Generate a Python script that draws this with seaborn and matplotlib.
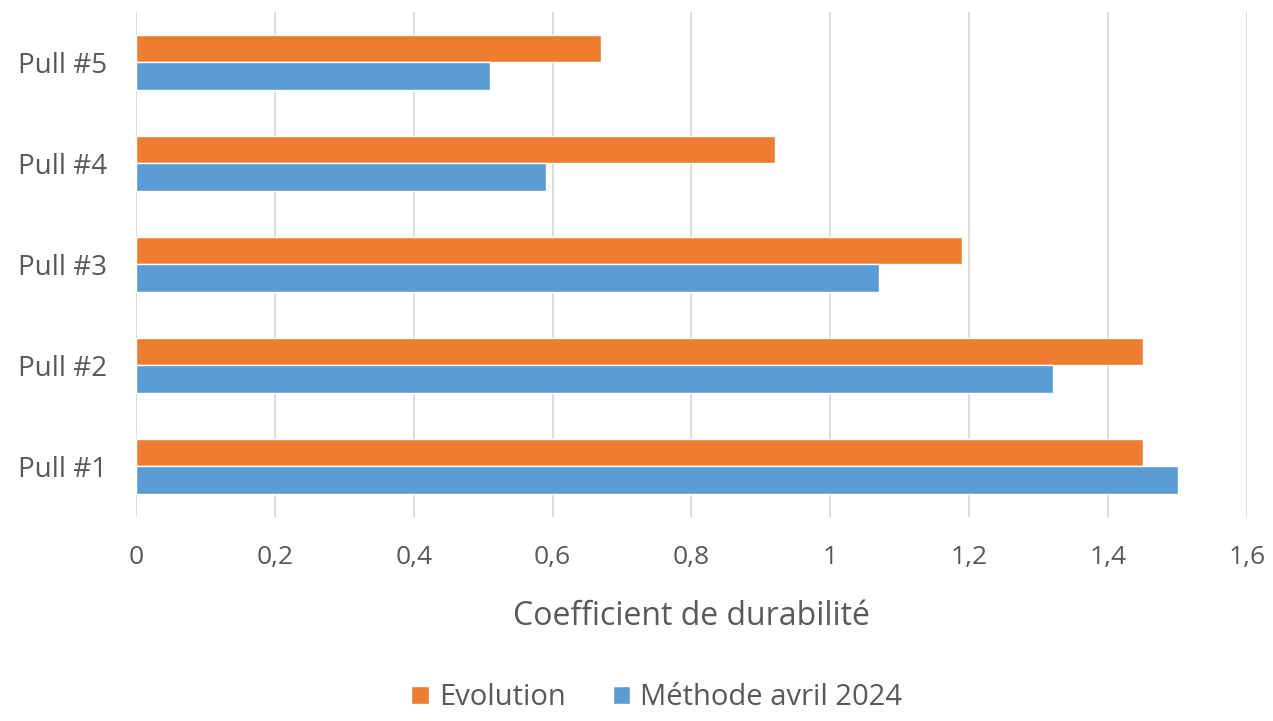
import matplotlib
matplotlib.use("Agg")
import matplotlib.pyplot as plt
import matplotlib.ticker as mticker
import seaborn as sns
import pandas as pd

categories = ["Pull #1", "Pull #2", "Pull #3", "Pull #4", "Pull #5"]
evolution = [1.45, 1.45, 1.19, 0.92, 0.67]
methode_avril_2024 = [1.50, 1.32, 1.07, 0.59, 0.51]
series_names = ["Evolution", "Méthode avril 2024"]
x_ticks = [0, 0.2, 0.4, 0.6, 0.8, 1.0, 1.2, 1.4, 1.6]

df = pd.DataFrame({
    "Pull": categories * 2,
    "Valeur": evolution + methode_avril_2024,
    "Série": [series_names[0]] * len(categories) + [series_names[1]] * len(categories),
})

sns.set_theme(style="white")
plt.rcParams["font.family"] = ["Open Sans", "DejaVu Sans"]
text_color = "#595959"

fig = plt.figure(figsize=(12.73, 7.21), dpi=100)
ax = fig.add_axes([0.1068, 0.283, 0.8728, 0.7004])

sns.barplot(
    data=df, x="Valeur", y="Pull", hue="Série", orient="h",
    order=categories[::-1], hue_order=series_names,
    palette=["#ED7D31", "#5B9BD5"], width=0.54, saturation=1,
    ax=ax, legend=True,
)

ax.set_xlim(0, 1.6)
ax.set_xticks(x_ticks)
ax.xaxis.set_major_formatter(mticker.FuncFormatter(
    lambda v, _: ("%g" % round(v, 2)).replace(".", ",")))
ax.grid(axis="x", color="#D9D9D9", linewidth=1.3)
ax.set_axisbelow(True)
for s in ax.spines.values():
    s.set_visible(False)
ax.tick_params(axis="both", length=0, colors=text_color)
ax.tick_params(axis="x", pad=20, labelsize=19)
ax.tick_params(axis="y", pad=21, labelsize=20)
ax.set_ylabel("")
ax.set_xlabel("Coefficient de durabilité", fontsize=23, color=text_color, labelpad=22)

handles, labels = ax.get_legend_handles_labels()
ax.get_legend().remove()
fig.legend(handles, labels, loc="lower center", bbox_to_anchor=(0.516, -0.024),
           ncol=2, frameon=False, fontsize=21, labelcolor=text_color,
           handlelength=0.6, handleheight=0.6, handletextpad=0.35, columnspacing=1.6)

fig.savefig("out.png", dpi=100)
